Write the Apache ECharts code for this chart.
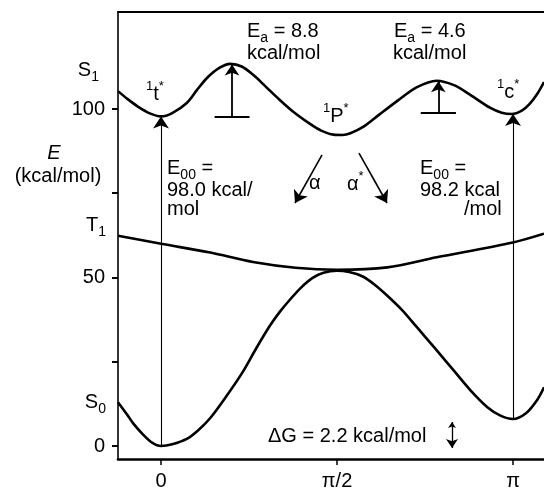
<!DOCTYPE html>
<html>
<head>
<meta charset="utf-8">
<script src="https://cdn.jsdelivr.net/npm/echarts@6/dist/echarts.min.js"></script>
<style>html,body{margin:0;padding:0;background:#fff;}#c{width:544px;height:492px;}</style>
</head>
<body>
<div id="c"></div>
<script>
// ---- data (angle θ in rad, energy E in kcal/mol) ----
const s1Theta = [-0.384, -0.30, -0.21, -0.10, 0, 0.10, 0.23, 0.32, 0.41, 0.52, 0.62, 0.72, 0.82, 0.93, 1.04, 1.18, 1.33, 1.43, 1.54, 1.62, 1.69, 1.80, 1.95, 2.11, 2.28, 2.46, 2.62, 2.76, 2.94, 3.04, 3.13, 3.22, 3.29, 3.36, 3.418];
const s1E     = [105.3, 103.0, 100.8, 98.7, 97.8, 98.8, 101.8, 105.6, 109.2, 112.2, 113.4, 112.6, 110.2, 106.8, 103.3, 99.2, 95.6, 93.6, 92.4, 92.3, 92.8, 94.6, 98.4, 102.4, 106.4, 108.4, 107.0, 104.2, 100.3, 98.9, 98.5, 99.5, 101.5, 104.6, 108.0];
const t1Theta = [-0.384, 0, 0.44, 0.82, 1.2, 1.57, 2.02, 2.46, 3.14, 3.418];
const t1E     = [62.4, 60.0, 57.4, 54.6, 52.9, 52.3, 53.0, 56.0, 60.4, 63.0];
const s0Theta = [-0.384, -0.30, -0.25, -0.16, -0.08, 0, 0.10, 0.23, 0.33, 0.44, 0.58, 0.73, 0.85, 0.97, 1.06, 1.15, 1.25, 1.35, 1.45, 1.57, 1.68, 1.80, 1.91, 2.02, 2.15, 2.28, 2.45, 2.61, 2.76, 2.91, 3.03, 3.14, 3.26, 3.36, 3.418];
const s0E     = [13.0, 9.2, 6.8, 3.4, 1.0, 0, 0.5, 2.1, 4.6, 8.3, 14.6, 22.0, 29.0, 35.6, 39.8, 43.4, 47.0, 49.8, 51.4, 52.0, 51.6, 50.3, 47.8, 44.6, 40.4, 35.4, 28.8, 22.5, 16.6, 11.6, 9.0, 8.0, 9.8, 13.8, 17.4];
// E00 vertical arrows: [θ, from E, to E]
const e00Arrows = [[0, 0, 97.8], [Math.PI, 8.0, 98.5]];
// activation barriers: [θ, base E, top E, bar half width]
const eaBars = [[0.634, 97.6, 113.2, 0.156], [2.475, 98.8, 108.2, 0.157]];
// relaxation arrows α, α*
const alphaArrows = [[[1.437, 86.4], [1.196, 72.1]], [[1.767, 86.9], [2.017, 72.1]]];
const dGArrow = [[2.597, 7.1], [2.597, -0.6]];
const xTicks = [0, Math.PI / 2, Math.PI];
const xTickLabels = ['0', 'π/2', 'π'];
const yTicks = [0, 25, 50, 75, 100];
const yLabelVals = [0, 50, 100];

const F = '"Liberation Sans", Arial, Helvetica, sans-serif';
const XMIN = -0.3838, XMAX = 3.418, YMIN = -3.86, YMAX = 128.78;

function zip(a, b) { return a.map((v, i) => [v, b[i]]); }

const R = {
  m: {fontSize: 20, fontFamily: F, lineHeight: 28, verticalAlign: 'middle', color: '#000'},
  i: {fontSize: 20, fontFamily: F, fontStyle: 'italic', lineHeight: 28, verticalAlign: 'middle', color: '#000'},
  sb: {fontSize: 14, fontFamily: F, verticalAlign: 'bottom', color: '#000'},
  sp: {fontSize: 13, fontFamily: F, verticalAlign: 'top', color: '#000'}
};
function T(x, y, text, align) {
  return {type: 'text', x: x, y: y, silent: true,
    style: {text: text, align: align || 'left', verticalAlign: 'middle', fill: '#000',
      fontSize: 20, fontFamily: F, rich: R}};
}

const curveStyle = {color: '#000', width: 2.6};
function curve(name, data) {
  return {name: name, type: 'line', data: data, showSymbol: false, smooth: 0.3,
    lineStyle: curveStyle, itemStyle: {color: '#000'}, silent: true, z: 3};
}
function seg(coords, symbol, width, size) {
  return {type: 'lines', coordinateSystem: 'cartesian2d', silent: true, z: 4,
    symbol: symbol, symbolSize: size || 10,
    lineStyle: {color: '#000', width: width, opacity: 1, curveness: 0},
    data: coords.map(c => ({coords: c}))};
}

const series = [
  curve('S1', zip(s1Theta, s1E)),
  curve('T1', zip(t1Theta, t1E)),
  curve('S0', zip(s0Theta, s0E)),
  seg(e00Arrows.map(a => [[a[0], a[1]], [a[0], a[2]]]), ['none', 'arrow'], 1.1, [6, 12]),
  seg(eaBars.map(b => [[b[0], b[1]], [b[0], b[2]]]), ['none', 'arrow'], 1.8, [6, 11]),
  seg(eaBars.map(b => [[b[0] - b[3], b[1]], [b[0] + b[3], b[1]]]), ['none', 'none'], 2, 1),
  seg(alphaArrows, ['none', 'arrow'], 1.6, [7, 12]),
  seg([dGArrow], ['arrow', 'arrow'], 1.3, [6, 9])
];

const chart = echarts.init(document.getElementById('c'), null, {renderer: 'canvas'});
chart.setOption({
  backgroundColor: '#fff',
  animation: false,
  grid: {left: 118, right: 0, top: 12, bottom: 33, containLabel: false, outerBoundsMode: 'none'},
  xAxis: [{
    type: 'value', min: XMIN, max: XMAX, position: 'bottom',
    axisLine: {show: true, onZero: false, lineStyle: {color: '#000', width: 2.6}},
    axisTick: {show: true, inside: false, length: 6, customValues: xTicks, lineStyle: {color: '#000', width: 1.5}},
    axisLabel: {show: true, margin: 12, customValues: xTicks, color: '#000', fontSize: 20, fontFamily: F,
      formatter: v => { const k = xTicks.findIndex(t => Math.abs(t - v) < 1e-6); return k >= 0 ? xTickLabels[k] : ''; }},
    splitLine: {show: false}
  }, {
    type: 'value', min: XMIN, max: XMAX, position: 'top',
    axisLine: {show: true, onZero: false, lineStyle: {color: '#000', width: 2.2}},
    axisTick: {show: false}, axisLabel: {show: false}, splitLine: {show: false}
  }],
  yAxis: {
    type: 'value', min: YMIN, max: YMAX,
    axisLine: {show: true, onZero: false, lineStyle: {color: '#000', width: 1.6}},
    axisTick: {show: true, inside: false, length: 6, customValues: yTicks, lineStyle: {color: '#000', width: 2}},
    axisLabel: {show: true, margin: 13, customValues: yLabelVals, color: '#000', fontSize: 20, fontFamily: F},
    splitLine: {show: false}
  },
  graphic: [
    T(99, 70, '{m|S}{sb|1}', 'right'),
    T(106, 225, '{m|T}{sb|1}', 'right'),
    T(106, 402, '{m|S}{sb|0}', 'right'),
    T(54, 153, '{i|E}', 'center'),
    T(58, 176, '{m|(kcal/mol)}', 'center'),
    T(146, 94, '{sp|1}{m|t}{sp|*}'),
    T(247, 31, '{m|E}{sb|a}{m| = 8.8}'),
    T(247, 53, '{m|kcal/mol}'),
    T(394, 31, '{m|E}{sb|a}{m| = 4.6}'),
    T(393, 53, '{m|kcal/mol}'),
    T(323, 116, '{sp|1}{m|P}{sp|*}'),
    T(497, 92, '{sp|1}{m|c}{sp|*}'),
    T(167, 168, '{m|E}{sb|00}{m| =}'),
    T(167, 190, '{m|98.0 kcal/}'),
    T(167, 209, '{m|mol}'),
    T(420, 168, '{m|E}{sb|00}{m| =}'),
    T(420, 190, '{m|98.2 kcal}'),
    T(464, 209, '{m|/mol}'),
    T(309, 183, '{m|α}'),
    T(347, 184, '{m|α}{sp|*}'),
    T(268, 436, '{m|ΔG = 2.2 kcal/mol}')
  ],
  series: series
});
</script>
</body>
</html>
